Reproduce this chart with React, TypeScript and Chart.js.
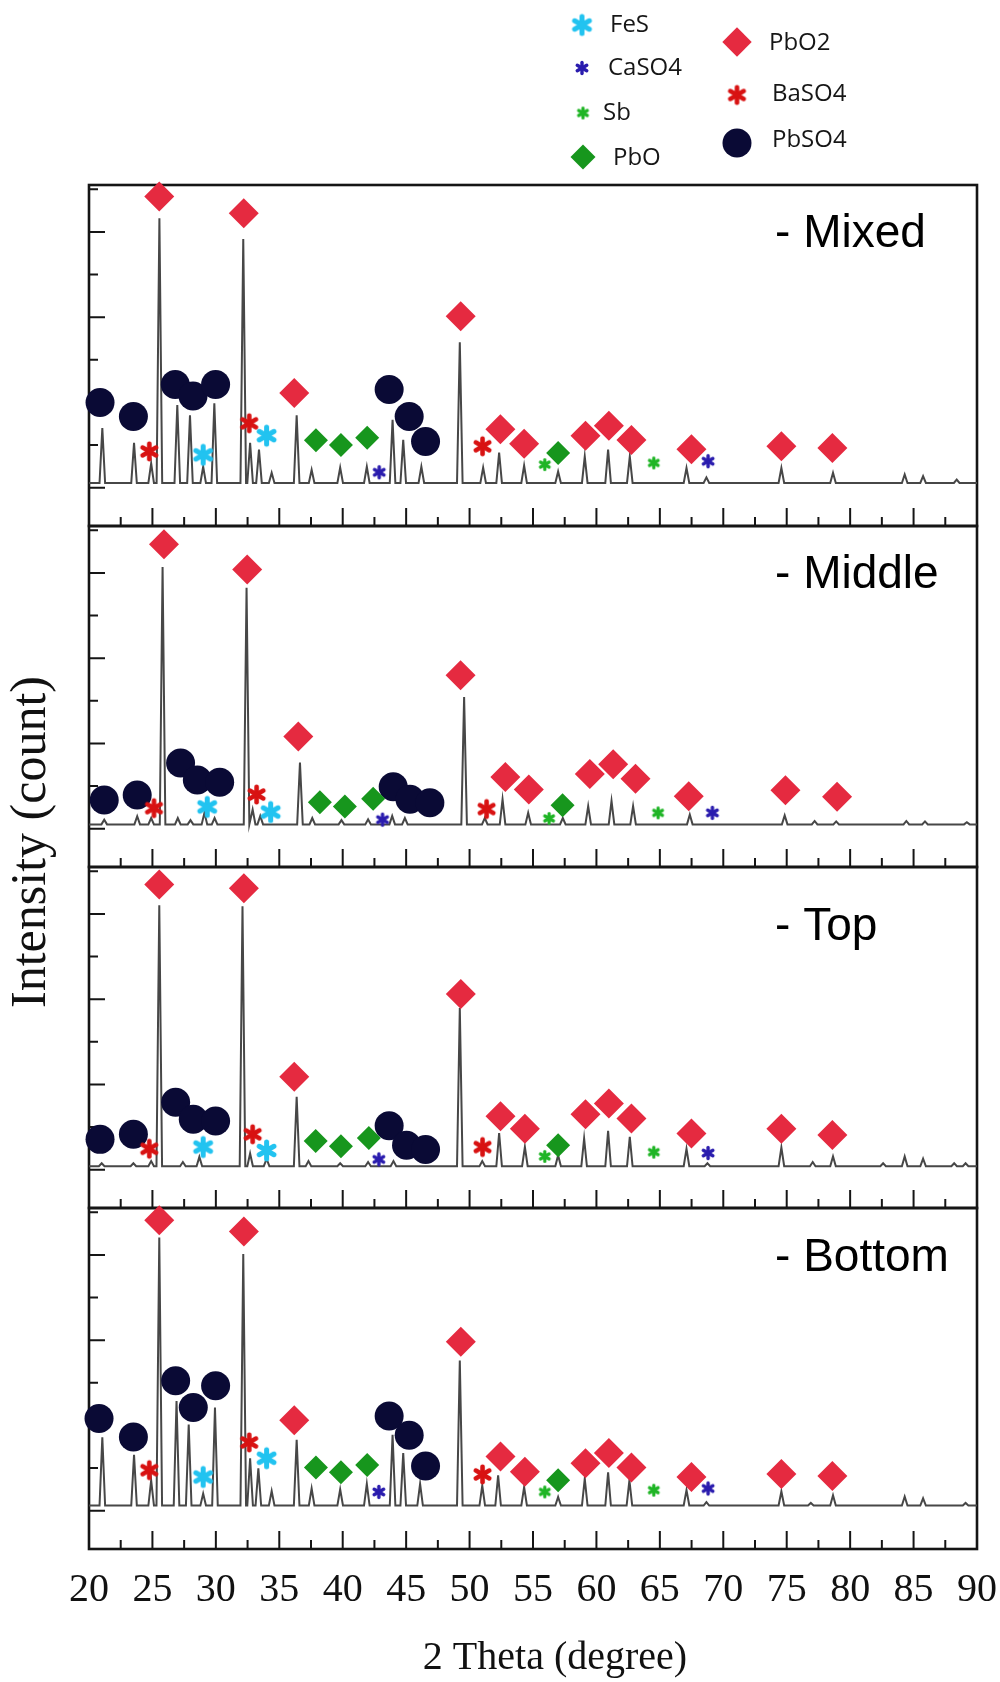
import { useEffect, useRef } from 'react';
import { Chart, registerables } from 'chart.js';

Chart.register(...registerables);

type Pt = [number, number];

// ---- axis ranges -------------------------------------------------------
const THETA_MIN = 20;
const THETA_MAX = 90;
const THETA_STEP = 5;
const PANEL_MIN = -0.9; // lower edge of each panel (intensity units, x1000 counts)
const PANEL_MAX = 7.1; // upper edge of each panel
const PANEL_SPAN = 8;
const PEAK_HALF_WIDTH = 0.22;

// ---- diffraction peaks [2theta, intensity] -----------------------------
const mixedBase = 0.11;
const mixedPeaks: Pt[] = [
  [21.05, 1.4], [23.55, 1.05], [24.9, 0.57], [25.55, 6.32], [26.96, 1.94], [27.96, 1.7],
  [29.0, 0.49], [29.88, 1.98], [32.16, 5.83], [32.7, 1.05], [33.4, 0.89], [34.4, 0.35],
  [36.37, 1.7], [37.55, 0.42], [39.8, 0.47], [41.9, 0.49], [43.93, 1.59], [44.77, 1.12],
  [46.2, 0.49], [49.23, 3.41], [51.07, 0.47], [52.33, 0.82], [54.3, 0.52], [56.98, 0.38],
  [59.08, 0.73], [60.92, 0.89], [62.63, 0.73], [67.1, 0.46], [68.67, 0.24], [74.58, 0.46],
  [78.65, 0.35], [84.3, 0.31], [85.75, 0.27], [88.4, 0.19],
];

const middleBase = 0.1;
const middlePeaks: Pt[] = [
  [21.2, 0.21], [23.8, 0.29], [24.9, 0.25], [25.8, 6.14], [27.0, 0.25], [28.0, 0.2],
  [29.1, 0.37], [29.9, 0.25], [32.42, 5.65], [32.9, 0.45], [33.5, 0.3], [36.63, 1.55],
  [37.6, 0.25], [39.9, 0.2], [42.0, 0.22], [43.9, 0.3], [44.9, 0.25], [49.57, 3.09],
  [51.2, 0.25], [52.6, 0.69], [54.62, 0.37], [57.35, 0.25], [59.35, 0.53], [61.19, 0.65],
  [62.89, 0.53], [67.36, 0.33], [74.84, 0.31], [77.2, 0.18], [78.9, 0.17], [84.43, 0.18],
  [85.9, 0.17], [89.2, 0.15],
];

const topBase = 0.08;
const topPeaks: Pt[] = [
  [21.0, 0.15], [23.5, 0.15], [24.9, 0.2], [25.54, 6.2], [27.4, 0.18], [28.7, 0.3],
  [32.1, 6.18], [32.7, 0.38], [34.0, 0.25], [36.37, 1.71], [37.3, 0.2], [39.8, 0.15],
  [42.0, 0.18], [44.0, 0.2], [49.23, 3.79], [51.0, 0.2], [52.33, 0.86], [54.36, 0.53],
  [56.98, 0.34], [59.03, 0.73], [60.92, 0.91], [62.63, 0.77], [67.1, 0.49], [68.75, 0.15],
  [74.58, 0.52], [77.05, 0.18], [78.65, 0.31], [82.6, 0.15], [84.3, 0.31], [85.75, 0.26],
  [88.2, 0.15], [89.1, 0.15],
];

const bottomBase = 0.12;
const bottomPeaks: Pt[] = [
  [21.05, 1.72], [23.55, 1.31], [24.9, 0.71], [25.54, 6.41], [26.9, 2.57], [27.86, 2.02],
  [29.0, 0.4], [29.93, 2.42], [32.16, 6.02], [32.7, 1.23], [33.35, 0.99], [34.4, 0.46],
  [36.37, 1.66], [37.55, 0.52], [39.8, 0.5], [41.9, 0.63], [43.93, 1.78], [44.77, 1.35],
  [46.1, 0.63], [49.23, 3.52], [51.0, 0.59], [52.25, 0.83], [54.3, 0.55], [56.98, 0.32],
  [59.08, 0.75], [60.92, 0.9], [62.6, 0.71], [67.1, 0.48], [68.67, 0.2], [74.58, 0.45],
  [76.9, 0.18], [78.65, 0.36], [84.3, 0.33], [85.75, 0.29], [89.1, 0.18],
];

// ---- phase markers [2theta, intensity] ---------------------------------
const pbo2Mixed: Pt[] = [[25.54, 6.83], [32.2, 6.44], [36.18, 2.22], [49.3, 4.02], [52.43, 1.37], [54.3, 1.03], [59.14, 1.22], [60.98, 1.45], [62.76, 1.12], [67.49, 0.9], [74.58, 0.97], [78.6, 0.93]];
const pbso4Mixed: Pt[] = [[20.87, 2.0], [23.5, 1.67], [26.8, 2.42], [28.2, 2.15], [29.98, 2.42], [43.66, 2.3], [45.24, 1.67], [46.53, 1.08]];
const baso4Mixed: Pt[] = [[24.75, 0.85], [32.63, 1.51], [51.02, 0.97]];
const fesMixed: Pt[] = [[29.0, 0.77], [34.0, 1.22]];
const pboMixed: Pt[] = [[37.89, 1.11], [39.86, 1.0], [41.93, 1.17], [56.98, 0.81]];
const caso4Mixed: Pt[] = [[42.88, 0.36], [68.8, 0.62]];
const sbMixed: Pt[] = [[55.93, 0.54], [64.52, 0.58]];

const pbo2Middle: Pt[] = [[25.91, 6.67], [32.47, 6.08], [36.5, 2.16], [49.29, 3.6], [52.82, 1.21], [54.67, 0.92], [59.48, 1.28], [61.32, 1.51], [63.08, 1.17], [67.28, 0.76], [74.9, 0.9], [78.97, 0.75]];
const pbso4Middle: Pt[] = [[21.2, 0.67], [23.8, 0.79], [27.22, 1.54], [28.54, 1.14], [30.3, 1.09], [43.98, 0.98], [45.3, 0.69], [46.87, 0.61]];
const baso4Middle: Pt[] = [[25.12, 0.48], [33.21, 0.8], [51.34, 0.46]];
const fesMiddle: Pt[] = [[29.32, 0.51], [34.32, 0.39]];
const pboMiddle: Pt[] = [[38.2, 0.62], [40.17, 0.52], [42.4, 0.7], [57.33, 0.55]];
const caso4Middle: Pt[] = [[43.14, 0.21], [69.14, 0.37]];
const sbMiddle: Pt[] = [[56.27, 0.24], [64.86, 0.37]];

const pbo2Top: Pt[] = [[25.54, 6.69], [32.21, 6.6], [36.18, 2.18], [49.31, 4.12], [52.44, 1.25], [54.36, 0.96], [59.14, 1.3], [60.98, 1.55], [62.76, 1.2], [67.49, 0.85], [74.58, 0.96], [78.6, 0.81]];
const pbso4Top: Pt[] = [[20.87, 0.71], [23.5, 0.83], [26.83, 1.58], [28.22, 1.18], [29.98, 1.14], [43.66, 1.03], [45.03, 0.57], [46.53, 0.47]];
const baso4Top: Pt[] = [[24.75, 0.49], [32.9, 0.83], [51.02, 0.53]];
const fesTop: Pt[] = [[29.0, 0.53], [34.0, 0.45]];
const pboTop: Pt[] = [[37.87, 0.67], [39.86, 0.55], [42.06, 0.74], [56.98, 0.57]];
const caso4Top: Pt[] = [[42.85, 0.24], [68.8, 0.39]];
const sbTop: Pt[] = [[55.93, 0.31], [64.52, 0.41]];

const pbo2Bottom: Pt[] = [[25.54, 6.81], [32.21, 6.55], [36.18, 2.12], [49.31, 3.96], [52.44, 1.27], [54.36, 0.91], [59.14, 1.11], [60.98, 1.35], [62.76, 1.01], [67.49, 0.79], [74.58, 0.86], [78.6, 0.81]];
const pbso4Bottom: Pt[] = [[20.79, 2.16], [23.5, 1.73], [26.83, 3.05], [28.22, 2.42], [29.98, 2.93], [43.66, 2.22], [45.24, 1.77], [46.53, 1.05]];
const baso4Bottom: Pt[] = [[24.75, 0.95], [32.63, 1.6], [51.02, 0.85]];
const fesBottom: Pt[] = [[29.0, 0.79], [34.0, 1.23]];
const pboBottom: Pt[] = [[37.89, 1.01], [39.86, 0.9], [41.93, 1.07], [56.98, 0.71]];
const caso4Bottom: Pt[] = [[42.85, 0.44], [68.8, 0.52]];
const sbBottom: Pt[] = [[55.93, 0.44], [64.52, 0.48]];

// ---- panel labels and titles -------------------------------------------
const panelLabels = ['- Mixed', '- Middle', '- Top', '- Bottom'];
const panelLabelTheta = 74.08;
const panelLabelLevel = [5.65, 5.64, 5.39, 5.63];
const xTitle = '2 Theta (degree)';
const yTitle = 'Intensity (count)';

// ---- phases ------------------------------------------------------------
type PhaseKey = 'FeS' | 'CaSO4' | 'Sb' | 'PbO' | 'PbO2' | 'BaSO4' | 'PbSO4';
const phaseKeys: PhaseKey[] = ['FeS', 'CaSO4', 'Sb', 'PbO', 'PbO2', 'BaSO4', 'PbSO4'];

function makeAsterisk(color: string, r: number, lw: number): HTMLCanvasElement {
  const size = Math.ceil(2 * (r + lw));
  const c = document.createElement('canvas');
  c.width = size;
  c.height = size;
  const g = c.getContext('2d')!;
  g.strokeStyle = color;
  g.lineWidth = lw;
  g.lineCap = 'round';
  g.translate(size / 2, size / 2);
  for (let i = 0; i < 3; i++) {
    const a = Math.PI / 2 + (i * Math.PI) / 3;
    g.beginPath();
    g.moveTo(Math.cos(a) * r, Math.sin(a) * r);
    g.lineTo(-Math.cos(a) * r, -Math.sin(a) * r);
    g.stroke();
  }
  return c;
}

interface PhaseStyle {
  color: string;
  shape: 'asterisk' | 'rectRot' | 'circle';
  radius: number;
  image?: HTMLCanvasElement;
}

const phaseStyles: Record<PhaseKey, PhaseStyle> = {
  FeS: { color: '#22c3f0', shape: 'asterisk', radius: 11, image: makeAsterisk('#22c3f0', 8.5, 5) },
  CaSO4: { color: '#2a1cae', shape: 'asterisk', radius: 7, image: makeAsterisk('#2a1cae', 5.5, 3.4) },
  Sb: { color: '#20b526', shape: 'asterisk', radius: 6.5, image: makeAsterisk('#20b526', 5, 3.2) },
  PbO: { color: '#17961d', shape: 'rectRot', radius: 12 },
  PbO2: { color: '#e52a40', shape: 'rectRot', radius: 15 },
  BaSO4: { color: '#d81212', shape: 'asterisk', radius: 10, image: makeAsterisk('#d81212', 7.8, 4.6) },
  PbSO4: { color: '#0a0a35', shape: 'circle', radius: 14.5 },
};

// ---- panels (top to bottom) --------------------------------------------
const panels = [
  { label: panelLabels[0], level: panelLabelLevel[0], offset: 3 * PANEL_SPAN, base: mixedBase, peaks: mixedPeaks,
    marks: { FeS: fesMixed, CaSO4: caso4Mixed, Sb: sbMixed, PbO: pboMixed, PbO2: pbo2Mixed, BaSO4: baso4Mixed, PbSO4: pbso4Mixed } },
  { label: panelLabels[1], level: panelLabelLevel[1], offset: 2 * PANEL_SPAN, base: middleBase, peaks: middlePeaks,
    marks: { FeS: fesMiddle, CaSO4: caso4Middle, Sb: sbMiddle, PbO: pboMiddle, PbO2: pbo2Middle, BaSO4: baso4Middle, PbSO4: pbso4Middle } },
  { label: panelLabels[2], level: panelLabelLevel[2], offset: 1 * PANEL_SPAN, base: topBase, peaks: topPeaks,
    marks: { FeS: fesTop, CaSO4: caso4Top, Sb: sbTop, PbO: pboTop, PbO2: pbo2Top, BaSO4: baso4Top, PbSO4: pbso4Top } },
  { label: panelLabels[3], level: panelLabelLevel[3], offset: 0, base: bottomBase, peaks: bottomPeaks,
    marks: { FeS: fesBottom, CaSO4: caso4Bottom, Sb: sbBottom, PbO: pboBottom, PbO2: pbo2Bottom, BaSO4: baso4Bottom, PbSO4: pbso4Bottom } },
];

function spectrum(peaks: Pt[], base: number, offset: number) {
  const pts = [{ x: THETA_MIN, y: base + offset }];
  for (const [p, h] of peaks) {
    pts.push({ x: p - PEAK_HALF_WIDTH, y: base + offset });
    pts.push({ x: p, y: h + offset });
    pts.push({ x: p + PEAK_HALF_WIDTH, y: base + offset });
  }
  pts.push({ x: THETA_MAX, y: base + offset });
  return pts.sort((a, b) => a.x - b.x);
}

const serif = '"Liberation Serif", "Times New Roman", serif';

// ---- plugins -----------------------------------------------------------
const framePlugin = {
  id: 'xrdFrames',
  beforeDatasetsDraw(chart: any) {
    const { ctx, scales } = chart;
    const x = scales.x;
    const y = scales.y;
    const left = x.getPixelForValue(THETA_MIN);
    const right = x.getPixelForValue(THETA_MAX);
    ctx.save();
    ctx.strokeStyle = '#151515';
    for (const p of panels) {
      const top = y.getPixelForValue(p.offset + PANEL_MAX);
      const bottom = y.getPixelForValue(p.offset + PANEL_MIN);
      ctx.lineWidth = 2;
      ctx.beginPath();
      for (let t = THETA_MIN + THETA_STEP / 2; t < THETA_MAX; t += THETA_STEP / 2) {
        const px = x.getPixelForValue(t);
        const major = t % THETA_STEP === 0;
        ctx.moveTo(px, bottom);
        ctx.lineTo(px, bottom - (major ? 18 : 9));
      }
      for (let k = 0; k < PANEL_SPAN; k++) {
        const py = y.getPixelForValue(p.offset + k);
        ctx.moveTo(left, py);
        ctx.lineTo(left + (k % 2 === 0 ? 16 : 9), py);
      }
      ctx.stroke();
      ctx.lineWidth = 2.6;
      ctx.strokeRect(left, top, right - left, bottom - top);
    }
    ctx.restore();
  },
  afterDatasetsDraw(chart: any) {
    const { ctx, scales, chartArea } = chart;
    ctx.save();
    ctx.fillStyle = '#000';
    ctx.font = '46px "Liberation Sans", Arial, sans-serif';
    ctx.textAlign = 'left';
    ctx.textBaseline = 'alphabetic';
    for (const p of panels) {
      ctx.fillText(p.label, scales.x.getPixelForValue(panelLabelTheta), scales.y.getPixelForValue(p.offset + p.level));
    }
    // axis titles
    ctx.fillStyle = '#111';
    ctx.font = `40px ${serif}`;
    ctx.textAlign = 'center';
    ctx.textBaseline = 'middle';
    ctx.fillText(xTitle, (chartArea.left + chartArea.right) / 2 + 22, chart.height - 24);
    ctx.font = `50px ${serif}`;
    ctx.translate(32, (chartArea.top + chartArea.bottom) / 2 - 25);
    ctx.rotate(-Math.PI / 2);
    ctx.fillText(yTitle, 0, 0);
    ctx.restore();
  },
};

const legendLayout: { key: PhaseKey; mx: number; my: number; tx: number; ty: number; r?: number }[] = [
  { key: 'FeS', mx: 582, my: 25, tx: 610, ty: 25 },
  { key: 'CaSO4', mx: 582, my: 68, tx: 608, ty: 68 },
  { key: 'Sb', mx: 583, my: 113, tx: 603, ty: 113 },
  { key: 'PbO', mx: 583, my: 157, tx: 613, ty: 158, r: 12.5 },
  { key: 'PbO2', mx: 737, my: 42, tx: 769, ty: 43, r: 14.7 },
  { key: 'BaSO4', mx: 737, my: 95, tx: 772, ty: 94 },
  { key: 'PbSO4', mx: 737, my: 143, tx: 772, ty: 140 },
];

const legendPlugin = {
  id: 'phaseLegend',
  afterDraw(chart: any) {
    const { ctx } = chart;
    ctx.save();
    for (const item of legendLayout) {
      const st = phaseStyles[item.key];
      const r = item.r ?? st.radius;
      ctx.fillStyle = st.color;
      if (st.shape === 'asterisk' && st.image) {
        ctx.drawImage(st.image, item.mx - st.image.width / 2, item.my - st.image.height / 2);
      } else if (st.shape === 'rectRot') {
        ctx.beginPath();
        ctx.moveTo(item.mx, item.my - r);
        ctx.lineTo(item.mx + r, item.my);
        ctx.lineTo(item.mx, item.my + r);
        ctx.lineTo(item.mx - r, item.my);
        ctx.closePath();
        ctx.fill();
      } else {
        ctx.beginPath();
        ctx.arc(item.mx, item.my, r, 0, Math.PI * 2);
        ctx.fill();
      }
      ctx.fillStyle = '#161616';
      ctx.font = '24px "Open Sans", "Noto Sans", sans-serif';
      ctx.textAlign = 'left';
      ctx.textBaseline = 'middle';
      ctx.fillText(item.key, item.tx, item.ty);
    }
    ctx.restore();
  },
};

// ---- datasets ----------------------------------------------------------
function buildDatasets() {
  const sets: any[] = [];
  for (const key of phaseKeys) {
    const st = phaseStyles[key];
    sets.push({
      label: key,
      data: panels.flatMap((p) => p.marks[key].map(([t, v]) => ({ x: t, y: v + p.offset }))),
      showLine: false,
      pointStyle: st.shape === 'asterisk' ? st.image : st.shape,
      pointRadius: st.radius,
      pointBackgroundColor: st.color,
      pointBorderColor: st.color,
      pointBorderWidth: 0,
      clip: false,
      order: 1,
    });
  }
  for (const p of panels) {
    sets.push({
      label: p.label,
      data: spectrum(p.peaks, p.base, p.offset),
      showLine: true,
      borderColor: '#474747',
      borderWidth: 2,
      pointRadius: 0,
      tension: 0,
      order: 10,
    });
  }
  return sets;
}

export default function App() {
  const canvasRef = useRef<HTMLCanvasElement>(null);

  useEffect(() => {
    const chart = new Chart(canvasRef.current!, {
      type: 'scatter',
      data: { datasets: buildDatasets() },
      options: {
        animation: false,
        responsive: false,
        events: [],
        layout: { padding: { top: 185, right: 23, left: 0, bottom: 0 } },
        plugins: { legend: { display: false }, tooltip: { enabled: false } },
        scales: {
          x: {
            type: 'linear',
            min: THETA_MIN,
            max: THETA_MAX,
            afterFit: (s: any) => {
              s.height = 133;
              s.paddingLeft = 0;
              s.paddingRight = 0;
            },
            grid: { display: false, drawTicks: false },
            border: { display: false },
            ticks: { stepSize: THETA_STEP, color: '#111', padding: 17, maxRotation: 0, autoSkip: false, font: { family: serif, size: 40 } },
            title: { display: false },
          },
          y: {
            type: 'linear',
            min: PANEL_MIN,
            max: 3 * PANEL_SPAN + PANEL_MAX,
            afterFit: (s: any) => { s.width = 89; },
            grid: { display: false, drawTicks: false },
            border: { display: false },
            ticks: { display: false },
            title: { display: false },
          },
        },
      } as any,
      plugins: [framePlugin, legendPlugin],
    });
    return () => chart.destroy();
  }, []);

  return (
    <div style={{ position: 'absolute', left: 0, top: 0, width: 1000, height: 1682, background: '#fff' }}>
      <canvas ref={canvasRef} width={1000} height={1682} style={{ display: 'block', width: 1000, height: 1682 }} />
    </div>
  );
}
